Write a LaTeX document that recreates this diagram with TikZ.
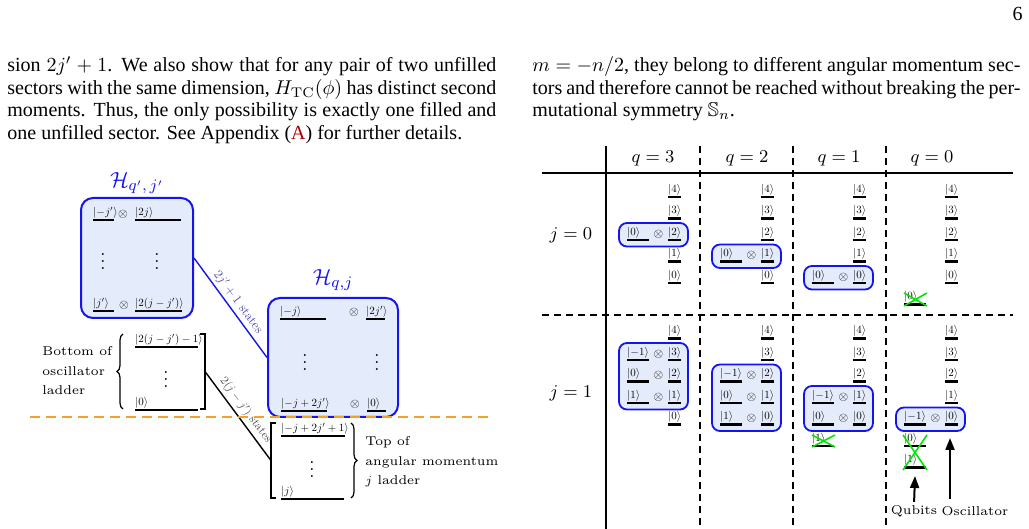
\documentclass[tikz,border=0pt]{standalone}
\usepackage{amssymb}
\usepackage{graphicx}
\usepackage{fontspec}
\newfontfamily\bodyfont{Liberation Serif}
\usetikzlibrary{arrows.meta,decorations.pathreplacing}
\definecolor{boxfill}{RGB}{228,236,251}
\definecolor{boxblue}{RGB}{20,20,240}
\definecolor{appred}{RGB}{170,0,0}
\definecolor{dashorange}{RGB}{245,160,40}
\definecolor{xgreen}{RGB}{0,230,0}
\definecolor{labblue}{RGB}{80,80,180}
\definecolor{labgray}{RGB}{80,80,80}
\newcommand\ket[1]{\scalebox{0.55}{$|#1\rangle$}}
\newcommand\otm{\scalebox{0.62}{$\otimes$}}
\newcommand\myvdots{\vbox{\baselineskip3.5pt\lineskiplimit0pt\hbox{.}\hbox{.}\hbox{.}}}
\tikzset{
 levbar/.style={line width=1.4pt},
 ketlab/.style={inner sep=0pt, anchor=south west},
 otimes/.style={inner sep=0pt},
 qbox/.style={draw=boxblue, fill=boxfill, line width=0.9pt, rounded corners=4pt},
 hbox/.style={draw=boxblue, fill=boxfill, line width=1pt, rounded corners=6pt, inner sep=0pt},
 tabline/.style={line width=0.7pt},
 tabdash/.style={line width=0.7pt, dash pattern=on 3.5pt off 2.5pt},
 crossx/.style={xgreen, line width=0.8pt},
 bigarrow/.style={line width=1pt, -{Triangle[length=6pt,width=4.5pt]}},
 dotnode/.style={inner sep=0pt, font=\fontsize{9}{9}\selectfont},
 brc/.style={decorate, decoration={brace, amplitude=3pt}, line width=0.6pt},
 bracket/.style={line width=0.6pt},
 bodyline/.style={anchor=base west, inner sep=0pt, font=\bodyfont\fontsize{10}{12}\selectfont},
 hdr/.style={font=\fontsize{9.3}{11}\selectfont},
 diagtext/.style={font=\fontsize{6.4}{9.75}\selectfont, align=left, inner sep=0pt},
 htitle/.style={font=\fontsize{11}{13}\selectfont, text=boxblue, inner sep=0pt},
 grp/.style={inner sep=0pt, outer sep=0pt},
 slab/.style={sloped, above, inner sep=1.5pt},
}
\newcommand\lev[5]{\draw[levbar] (#2,#3) -- ++(#4,0); \node[ketlab] (#1) at (#2,#3-1.5) {#5};}
\begin{document}
\begin{tikzpicture}[x=0.5pt,y=-0.5pt]
\useasboundingbox (0,0) rectangle (1029,529);

% ---------- page text ----------
\node[bodyline, anchor=base east] (pnum) at (1023,21) {6};
\node[bodyline] (l1) at (7,72) {\makebox[244.5pt][s]{sion $2j'+1$. We also show that for any pair of two unfilled}};
\node[bodyline] (l2) at (7,94.5) {\makebox[244.5pt][s]{sectors with the same dimension, $H_{\mathrm{TC}}(\phi)$ has distinct second}};
\node[bodyline] (l3) at (7,117) {\makebox[244.5pt][s]{moments. Thus, the only possibility is exactly one filled and}};
\node[bodyline] (l4) at (7,139.5) {one unfilled sector. See Appendix ({\color{appred}A}) for further details.};
\node[bodyline] (r1) at (532,72) {\makebox[244pt][s]{$m=-n/2$, they belong to different angular momentum sec-}};
\node[bodyline] (r2) at (532,94.5) {\makebox[244pt][s]{tors and therefore cannot be reached without breaking the per-}};
\node[bodyline] (r3) at (532,117) {mutational symmetry $\mathbb{S}_n$.};

% ---------- left figure ----------
\node[htitle] (t1) at (137,183) {$\mathcal{H}_{q',\,j'}$};
\node[htitle] (t2) at (333,280) {$\mathcal{H}_{q,j}$};
\node[hbox, minimum width=56pt, minimum height=60pt] (box1) at (137,258) {};
\node[hbox, minimum width=65pt, minimum height=59.5pt] (box2) at (333,357.5) {};

\lev{b1a}{93}{220}{21}{\ket{{-j'}}}
\node[otimes] (b1x1) at (123,214) {\otm};
\lev{b1b}{135}{220}{46}{\ket{2j}}
\lev{b1c}{93}{311}{21}{\ket{j'}}
\node[otimes] (b1x2) at (124,305) {\otm};
\lev{b1d}{135}{311}{47}{\ket{2(j-j')}}
\node[dotnode] (b1v1) at (103,262) {\myvdots};
\node[dotnode] (b1v2) at (157,262) {\myvdots};

\lev{b2a}{280}{319}{46}{\ket{{-j}}}
\node[otimes] (b2x1) at (354,312) {\otm};
\lev{b2b}{366}{319}{19}{\ket{2j'}}
\lev{b2c}{281}{411}{46}{\ket{{-j}+2j'}}
\node[otimes] (b2x2) at (355,404) {\otm};
\lev{b2d}{367}{411}{19}{\ket{0}}
\node[dotnode] (b2v1) at (305,363) {\myvdots};
\node[dotnode] (b2v2) at (377,363) {\myvdots};

\draw[boxblue, line width=0.7pt] (box1.east) -- node[slab, text=labblue] (s1) {\scalebox{0.64}{$2j'+1$ states}} (box2.west);

% bottom-of-oscillator group
\node[grp, minimum width=41pt, minimum height=37.5pt] (botg) at (164,371.5) {};
\draw[brc] (botg.south west) -- (botg.north west);
\draw[bracket] ([xshift=-2.5pt]botg.north east) -- (botg.north east) -- (botg.south east) -- ([xshift=-2.5pt]botg.south east);
\lev{bg1}{135}{347}{63}{\ket{2(j-j')-1}}
\node[dotnode] (bgv) at (166,380) {\myvdots};
\lev{bg2}{135}{410}{63}{\ket{0}}
\node[diagtext, anchor=west] (botlab) at (42,371) {Bottom of\\oscillator\\ladder};

% top-of-angular-momentum group
\node[grp, minimum width=40pt, minimum height=37.5pt] (topg) at (311,460.5) {};
\draw[bracket] ([xshift=2.5pt]topg.north west) -- (topg.north west) -- (topg.south west) -- ([xshift=2.5pt]topg.south west);
\draw[brc] (topg.north east) -- (topg.south east);
\lev{tg1}{281}{436}{64}{\ket{{-j}+2j'+1}}
\node[dotnode] (tgv) at (312,470) {\myvdots};
\lev{tg2}{281}{499}{63}{\ket{j}}
\node[diagtext, anchor=west] (toplab) at (365,462) {Top of\\angular momentum\\$j$ ladder};

\draw[line width=0.7pt] (botg.east) -- node[slab, text=labgray] (s2) {\scalebox{0.6}{$2(j-j')$ states}} (topg.west);

\draw[dashorange, line width=1pt, dash pattern=on 5pt off 3pt] (30,417) -- (488,417);

% ---------- right table ----------
\draw[tabline] (606,146) -- (606,529);
\draw[tabline] (542,173) -- (1013,173);
\draw[tabdash] (542,315) -- (1013,315);
\foreach \x in {700,793,886} \draw[tabdash] (\x,146) -- (\x,529);

\node[hdr] (hq3) at (653,158) {$q=3$};
\node[hdr] (hq2) at (747,158) {$q=2$};
\node[hdr] (hq1) at (839,158) {$q=1$};
\node[hdr] (hq0) at (932,158) {$q=0$};
\node[hdr] (hj0) at (571,235) {$j=0$};
\node[hdr] (hj1) at (571,393) {$j=1$};

% boxes j=0
\foreach \q/\ox in {3/668,2/761,1/853} {
  \pgfmathsetmacro\yb{283-21.5*(\q-1)}
  \draw[qbox] (\ox-49,\yb-17) rectangle (\ox+20,\yb+6.5);
}
% boxes j=1
\foreach \q/\ox/\nb in {3/668/1,2/761/0,1/853/0,0/945/0} {
  \pgfmathsetmacro\yt{424.5-21.5*\q}
  \pgfmathsetmacro\ybt{424.5-21.5*\nb}
  \draw[qbox] (\ox-49,\yt-17) rectangle (\ox+20,\ybt+6.5);
}
% oscillator levels
\foreach \q/\ox in {3/668,2/761,1/853,0/945} {
  \foreach \n in {0,...,4} {
    \pgfmathsetmacro\ya{283-21.5*\n}
    \lev{oa\q\n}{\ox}{\ya}{12.5}{\ket{\n}}
    \pgfmathsetmacro\yb{424.5-21.5*\n}
    \lev{ob\q\n}{\ox}{\yb}{12.5}{\ket{\n}}
  }
}
% qubit levels j=0
\foreach \q/\ox in {3/668,2/761,1/853,0/945} {
  \pgfmathsetmacro\yq{283-21.5*(\q-1)}
  \lev{qa\q}{\ox-41}{\yq}{22}{\ket{0}}
  \ifnum\q>0\relax \node[otimes] (xa\q) at (\ox-9.5,\yq-6) {\otm}; \fi
}
% qubit levels j=1
\foreach \q/\ox in {3/668,2/761,1/853,0/945} {
  \foreach \m/\mi in {-1/a,0/b,1/c} {
    \pgfmathsetmacro\yq{424.5-21.5*(\q-1-(\m))}
    \pgfmathtruncatemacro\nn{\q-1-(\m)}
    \lev{qb\q\mi}{\ox-41}{\yq}{22}{\ket{{\m}}}
    \ifnum\nn<0\relax\else \node[otimes] (xb\q\mi) at (\ox-9.5,\yq-6) {\otm}; \fi
  }
}
% crossed-out states
\draw[crossx] (904,293) -- (927,306) (904,306) -- (927,293);
\draw[crossx] (812,435) -- (835,447) (812,447) -- (835,435);
\draw[crossx] (903,435) -- (927,470) (903,470) -- (927,435);

% arrows
\node[diagtext] (qlab) at (914,511) {Qubits};
\node[diagtext] (olab) at (975,511) {Oscillator};
\coordinate (qtip) at (915,476);
\coordinate (otail) at (950,499);
\coordinate (otip) at (950,438);
\draw[bigarrow, shorten <=1.5pt] (qlab.north) -- (qtip);
\draw[bigarrow] (otail) -- (otip);
\end{tikzpicture}
\end{document}
